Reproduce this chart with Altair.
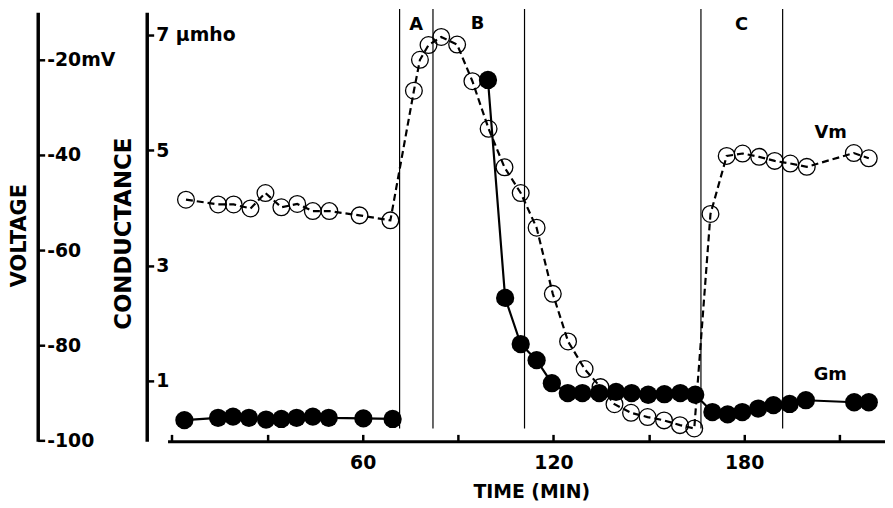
import altair as alt
import pandas as pd

# ---------------- data ----------------
# Membrane potential Vm (open circles, dashed line), mV
vm_time = [4.4, 14.5, 19.4, 24.7, 29.4, 34.4, 39.4, 44.3, 49.5, 59.0, 68.7,
           76.1, 78.0, 80.7, 84.7, 89.7, 94.5, 99.6, 104.6, 109.7, 114.7,
           119.8, 124.6, 129.8, 134.8, 139.2, 144.4, 149.6, 154.8, 159.8, 164.3,
           169.4, 174.5, 179.5, 184.7, 189.6, 194.5, 199.7, 214.5, 219.2]
vm_volt = [-49.4, -50.4, -50.4, -51.25, -48.0, -51.0, -50.3, -51.8, -51.8, -52.7, -53.75,
           -26.5, -20.0, -16.9, -15.2, -16.8, -24.5, -34.5, -42.6, -48.0, -55.3,
           -69.2, -79.2, -85.0, -88.8, -92.4, -94.2, -95.1, -95.8, -96.8, -97.5,
           -52.4, -40.2, -39.7, -40.4, -41.25, -41.8, -42.5, -39.6, -40.7]

# Membrane conductance Gm (filled circles, solid line), umho
gm_time = [3.9, 14.5, 19.2, 24.2, 29.6, 34.4, 39.2, 44.3, 49.3, 60.2, 69.4,
           99.4, 104.8, 109.7, 114.7, 119.5, 124.5, 129.1, 134.4, 139.7, 144.6,
           149.8, 154.9, 159.9, 164.6, 170.0, 174.8, 179.4, 184.4, 189.2, 194.3,
           199.4, 214.6, 219.2]
gm_cond = [0.32, 0.36, 0.38, 0.36, 0.33, 0.34, 0.36, 0.38, 0.36, 0.35, 0.34,
           6.22, 2.44, 1.64, 1.36, 0.96, 0.79, 0.79, 0.79, 0.81, 0.79,
           0.76, 0.77, 0.79, 0.76, 0.46, 0.42, 0.46, 0.52, 0.58, 0.60,
           0.665, 0.63, 0.63]
gm_segment = [1] * 11 + [2] * 23

# period boundaries (min)
div_times = [71.6, 82.1, 110.9, 166.4, 192.1]
div_top = [7.45] * 5
div_bottom = [0.175] * 5

# period letters
period_labels = ["A", "B", "C"]
period_times = [76.8, 96.1, 179.2]
period_cond = [7.18, 7.19, 7.17]

# series labels
vm_label_time, vm_label_volt = [207.2], [-35.35]
gm_label_time, gm_label_cond = [207.1], [1.10]

# axes
x_ticks = [0, 30, 60, 90, 120, 150, 180, 210]
x_tick_labels = ["", "", "60", "", "120", "", "180", ""]
volt_ticks = [-20, -40, -60, -80, -100]
volt_labels = ["-20mV", "-40", "-60", "-80", "-100"]
cond_ticks = [7, 5, 3, 1]
cond_labels = ["7 \u00b5mho", "5", "3", "1"]


def label_expr(vals, labels):
    expr = "''"
    for v, l in reversed(list(zip(vals, labels))):
        expr = f"datum.value == {v} ? '{l}' : ({expr})"
    return expr


FONT = "DejaVu Sans"
W, H = 724, 433

x_scale = alt.Scale(domain=[-1.4, 224.3], nice=False, zero=False)
v_scale = alt.Scale(domain=[-100.2, -10], nice=False, zero=False)
g_scale = alt.Scale(domain=[-0.048, 7.395], nice=False, zero=False)

common = dict(grid=False, domainColor="black", tickColor="black",
              labelColor="black", titleColor="black",
              labelFont=FONT, titleFont=FONT,
              labelFontWeight="bold", titleFontWeight="bold")

x_axis = alt.Axis(orient="top", offset=-H, values=x_ticks,
                  labelExpr=label_expr(x_ticks, x_tick_labels),
                  tickSize=7, tickWidth=2.5, domainWidth=3,
                  labelPadding=-28, labelBaseline="middle", labelFontSize=19,
                  labelAngle=0,
                  title="TIME (MIN)", titleX=367, titleY=51, titleFontSize=19,
                  titleAlign="center", titleBaseline="middle", titleAngle=0,
                  **common)

v_axis = alt.Axis(orient="right", offset=-(W + 131), values=volt_ticks,
                  labelExpr=label_expr(volt_ticks, volt_labels),
                  tickSize=7, tickWidth=2.5, domainWidth=3.5,
                  labelAlign="left", labelPadding=2, labelFontSize=19,
                  labelBaseline="middle",
                  title="VOLTAGE", titleAngle=270, titleX=-18, titleY=225,
                  titleFontSize=21, titleAlign="center", titleBaseline="middle",
                  **common)

g_axis = alt.Axis(orient="right", offset=-(W + 21), values=cond_ticks,
                  labelExpr=label_expr(cond_ticks, cond_labels),
                  tickSize=7, tickWidth=2.5, domainWidth=3.5,
                  labelAlign="left", labelPadding=2, labelFontSize=19,
                  labelBaseline="middle",
                  title="CONDUCTANCE", titleAngle=270, titleX=-23, titleY=223,
                  titleFontSize=23, titleAlign="center", titleBaseline="middle",
                  **common)

vm_df = pd.DataFrame({"t": vm_time, "v": vm_volt})
gm_df = pd.DataFrame({"t": gm_time, "g": gm_cond, "seg": gm_segment})
div_df = pd.DataFrame({"t": div_times, "top": div_top, "bottom": div_bottom})
per_df = pd.DataFrame({"t": period_times, "g": period_cond, "lab": period_labels})
vml_df = pd.DataFrame({"t": vm_label_time, "v": vm_label_volt, "lab": ["Vm"]})
gml_df = pd.DataFrame({"t": gm_label_time, "g": gm_label_cond, "lab": ["Gm"]})

X = alt.X("t:Q", scale=x_scale, axis=x_axis)
YV = alt.Y("v:Q", scale=v_scale, axis=v_axis)
YG = alt.Y("g:Q", scale=g_scale, axis=g_axis)

# ---------- voltage group ----------
vm_line = alt.Chart(vm_df).mark_line(color="black", strokeWidth=2.2, strokeDash=[7, 4]).encode(
    x=X, y=YV,
)
vm_pts = alt.Chart(vm_df).mark_point(shape="circle", filled=False, size=285,
                                     stroke="black", strokeWidth=1.3, opacity=1).encode(
    x=X, y=YV,
)
vm_txt = alt.Chart(vml_df).mark_text(font=FONT, fontWeight="bold", fontSize=18,
                                     color="black").encode(
    x=X, y=YV, text="lab:N",
)
v_group = alt.layer(vm_line, vm_pts, vm_txt)

# ---------- conductance group ----------
gm_line = alt.Chart(gm_df).mark_line(color="black", strokeWidth=2.2).encode(
    x=X, y=YG, detail="seg:N",
)
gm_pts = alt.Chart(gm_df).mark_circle(size=340, color="black", opacity=1).encode(
    x=X, y=YG,
)
rules = alt.Chart(div_df).mark_rule(color="black", strokeWidth=1.2).encode(
    x=X,
    y=alt.Y("top:Q", scale=g_scale, axis=g_axis),
    y2="bottom:Q",
)
per_txt = alt.Chart(per_df).mark_text(font=FONT, fontWeight="bold", fontSize=18,
                                      color="black").encode(
    x=X, y=YG, text="lab:N",
)
gm_txt = alt.Chart(gml_df).mark_text(font=FONT, fontWeight="bold", fontSize=18,
                                     color="black").encode(
    x=X, y=YG, text="lab:N",
)
g_group = alt.layer(rules, gm_line, gm_pts, per_txt, gm_txt)

chart = alt.layer(v_group, g_group).resolve_scale(y="independent").properties(
    width=W, height=H,
    autosize=alt.AutoSizeParams(type="none"),
    padding={"left": 161, "top": 2, "right": 0, "bottom": 65},
    background="white",
).configure_view(stroke=None)

chart.save("out.html", embed_options={"renderer": "svg", "actions": False})
